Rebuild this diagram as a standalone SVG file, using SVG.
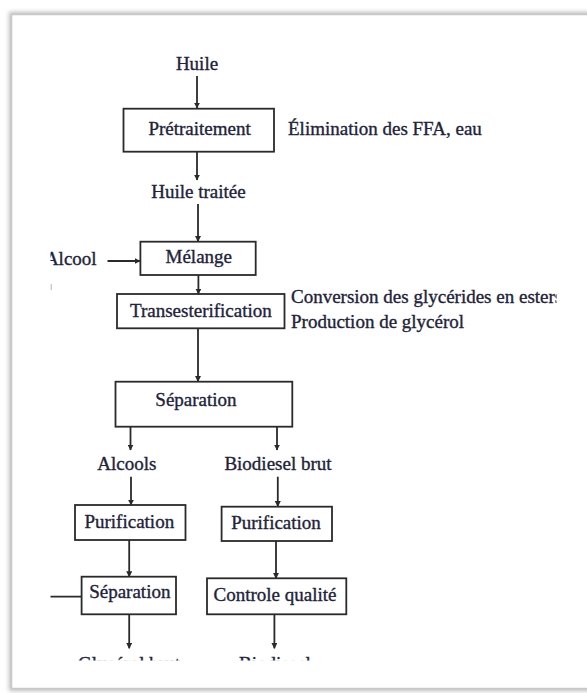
<svg xmlns="http://www.w3.org/2000/svg" width="587" height="693" viewBox="0 0 587 693">
  <style>
    .lbl { font-family: "Liberation Serif", "Times New Roman", serif; font-size: 19px; fill: #22223a; stroke: #22223a; stroke-width: 0.35; }
    .mid { text-anchor: middle; }
    .box { fill: #ffffff; stroke: #2a2a2a; stroke-width: 1.8; }
    .ln { fill: none; stroke: #2a2a2a; stroke-width: 1.8; }
  </style>
  <defs>
    <marker id="arrow" viewBox="0 0 10 10" refX="9" refY="5" markerWidth="6" markerHeight="6" markerUnits="userSpaceOnUse" orient="auto">
      <path d="M0,0 L10,5 L0,10 z" fill="#2a2a2a"/>
    </marker>
    <filter id="soft" x="-5%" y="-5%" width="110%" height="110%">
      <feGaussianBlur stdDeviation="2"/>
    </filter>
    <clipPath id="area">
      <rect x="50.5" y="20" width="506" height="640.5"/>
    </clipPath>
  </defs>

  <!-- page frame with soft shadow -->
  <rect x="0" y="0" width="587" height="693" fill="#ffffff"/>
  <rect x="9" y="12" width="600" height="679" fill="#bdbdbd" filter="url(#soft)"/>
  <rect x="11.5" y="14.5" width="600" height="674" fill="#ffffff" stroke="#c8c8c8" stroke-width="1.5"/>

  <g clip-path="url(#area)">
    <!-- connectors -->
    <g id="connectors">
      <line class="ln" x1="197" y1="76" x2="197" y2="108" marker-end="url(#arrow)"/>
      <line class="ln" x1="197" y1="152" x2="197" y2="180" marker-end="url(#arrow)"/>
      <line class="ln" x1="198" y1="204" x2="198" y2="241.5" marker-end="url(#arrow)"/>
      <line class="ln" x1="107.5" y1="261" x2="140" y2="261" marker-end="url(#arrow)"/>
      <line class="ln" x1="198.4" y1="275" x2="198.4" y2="294" marker-end="url(#arrow)"/>
      <line class="ln" x1="198" y1="328.3" x2="198" y2="381.5" marker-end="url(#arrow)"/>
      <line class="ln" x1="130.5" y1="426.7" x2="130.5" y2="450" marker-end="url(#arrow)"/>
      <line class="ln" x1="277" y1="426.7" x2="277" y2="450" marker-end="url(#arrow)"/>
      <line class="ln" x1="131" y1="476.7" x2="131" y2="505" marker-end="url(#arrow)"/>
      <line class="ln" x1="277.8" y1="476.7" x2="277.8" y2="506.5" marker-end="url(#arrow)"/>
      <line class="ln" x1="129.2" y1="540" x2="129.2" y2="576.7" marker-end="url(#arrow)"/>
      <line class="ln" x1="276" y1="541" x2="276" y2="578.3" marker-end="url(#arrow)"/>
      <line class="ln" x1="50" y1="596.7" x2="81.6" y2="596.7"/>
      <line class="ln" x1="129.2" y1="614.3" x2="129.2" y2="648.3" marker-end="url(#arrow)"/>
      <line class="ln" x1="274.4" y1="614.3" x2="274.4" y2="648.3" marker-end="url(#arrow)"/>
      <line x1="51" y1="284" x2="51" y2="290" stroke="#9a9a9a" stroke-width="1"/>
    </g>

    <!-- nodes -->
    <g id="huile"><text class="lbl mid" x="197" y="70">Huile</text></g>

    <g id="pretraitement">
      <rect class="box" x="123.5" y="108.7" width="150.5" height="43"/>
      <text class="lbl mid" x="199.6" y="135">Prétraitement</text>
    </g>
    <g id="note-pretraitement"><text class="lbl" x="288" y="135">Élimination des FFA, eau</text></g>

    <g id="huile-traitee"><text class="lbl mid" x="198.4" y="197.5">Huile traitée</text></g>

    <g id="alcool"><text class="lbl" x="96.6" y="265" text-anchor="end">Alcool</text></g>

    <g id="melange">
      <rect class="box" x="140.4" y="241.7" width="115.3" height="33.3"/>
      <text class="lbl mid" x="198.8" y="263.3">Mélange</text>
    </g>

    <g id="transesterification">
      <rect class="box" x="117" y="294" width="167.5" height="34.3"/>
      <text class="lbl mid" x="200.9" y="317.3">Transesterification</text>
    </g>
    <g id="note-transesterification">
      <text class="lbl" x="291" y="302.7">Conversion des glycérides en esters</text>
      <text class="lbl" x="291" y="327.5">Production de glycérol</text>
    </g>

    <g id="separation">
      <rect class="box" x="115.5" y="381.7" width="176.8" height="45"/>
      <text class="lbl mid" x="196" y="406">Séparation</text>
    </g>

    <g id="alcools"><text class="lbl mid" x="126.8" y="470">Alcools</text></g>
    <g id="biodiesel-brut"><text class="lbl mid" x="278" y="470">Biodiesel brut</text></g>

    <g id="purification-alcools">
      <rect class="box" x="75" y="505" width="110.5" height="35"/>
      <text class="lbl mid" x="129.3" y="528.3">Purification</text>
    </g>
    <g id="purification-biodiesel">
      <rect class="box" x="221.6" y="506.7" width="110.4" height="34.3"/>
      <text class="lbl mid" x="276" y="529">Purification</text>
    </g>

    <g id="separation-glycerol">
      <rect class="box" x="81.6" y="576.7" width="94.4" height="37.6"/>
      <text class="lbl mid" x="129.8" y="598.3">Séparation</text>
    </g>
    <g id="controle-qualite">
      <rect class="box" x="207" y="578.3" width="139.3" height="36"/>
      <text class="lbl mid" x="275" y="600.7">Controle qualité</text>
    </g>

    <g id="glycerol-brut"><text class="lbl mid" x="129" y="670">Glycérol brut</text></g>
    <g id="biodiesel"><text class="lbl mid" x="275" y="670">Biodiesel</text></g>
  </g>
</svg>
